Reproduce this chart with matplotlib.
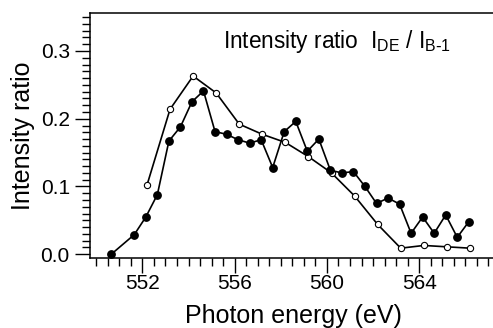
import numpy as np
import matplotlib
matplotlib.use("Agg")
import matplotlib.pyplot as plt
from matplotlib.ticker import MultipleLocator

plt.rcParams['font.family'] = ['Liberation Sans', 'DejaVu Sans']

# filled circles (half-eV steps)
filled_x = [550.65, 551.65, 552.15, 552.65, 553.15, 553.65, 554.15, 554.65,
            555.15, 555.65, 556.15, 556.65, 557.15, 557.65, 558.15, 558.65,
            559.15, 559.65, 560.15, 560.65, 561.15, 561.65, 562.15, 562.65,
            563.15, 563.65, 564.15, 564.65, 565.15, 565.65, 566.15]
filled_y = [0.000, 0.029, 0.055, 0.088, 0.167, 0.188, 0.225, 0.241,
            0.181, 0.177, 0.169, 0.164, 0.169, 0.128, 0.181, 0.196,
            0.152, 0.170, 0.124, 0.120, 0.122, 0.100, 0.075, 0.083,
            0.074, 0.031, 0.055, 0.031, 0.058, 0.025, 0.048]

# open circles (1 eV steps)
open_x = [552.2, 553.2, 554.2, 555.2, 556.2, 557.2, 558.2, 559.2,
          560.2, 561.2, 562.2, 563.2, 564.2, 565.2, 566.2]
open_y = [0.102, 0.214, 0.263, 0.238, 0.192, 0.177, 0.165, 0.144,
          0.120, 0.086, 0.044, 0.009, 0.013, 0.011, 0.009]

fig = plt.figure(figsize=(4.93, 3.28), dpi=100)
ax = fig.add_axes([90/493, 70/328, 406/493, 245/328])

ax.plot(open_x, open_y, color="black", linewidth=1.2, marker="o",
        markersize=4.5, markerfacecolor="white", markeredgewidth=0.8, zorder=2)
ax.plot(filled_x, filled_y, color="black", linewidth=1.2, marker="o",
        markersize=5.3, zorder=3)

ax.set_xlim(549.73, 567.33)
ax.set_ylim(-0.0055, 0.356)

ax.xaxis.set_major_locator(MultipleLocator(4))
ax.xaxis.set_minor_locator(MultipleLocator(0.5))
ax.yaxis.set_major_locator(MultipleLocator(0.1))
ax.yaxis.set_minor_locator(MultipleLocator(0.01))
ax.yaxis.set_major_formatter(matplotlib.ticker.FormatStrFormatter('%.1f'))

ax.spines['right'].set_visible(False)
for s in ['left', 'bottom', 'top']:
    ax.spines[s].set_linewidth(1.1)

ax.tick_params(which='major', direction='out', length=10.5, width=1.0,
               labelsize=15)
ax.tick_params(which='minor', direction='out', length=5.5, width=1.0)
ax.tick_params(axis='x', which='major', pad=1)
ax.tick_params(axis='y', which='major', pad=4)
ax.tick_params(top=False, right=False, which='both')

ax.set_xlabel("Photon energy (eV)", fontsize=18, labelpad=8)
ax.set_ylabel("Intensity ratio", fontsize=18, labelpad=4)

ax.text(0.327, 0.856,
        r"Intensity ratio  $\mathregular{I_{DE}}$ / $\mathregular{I_{B\text{-}1}}$",
        transform=ax.transAxes, fontsize=16.3, va='baseline', ha='left')

fig.savefig("out.png", dpi=100)
